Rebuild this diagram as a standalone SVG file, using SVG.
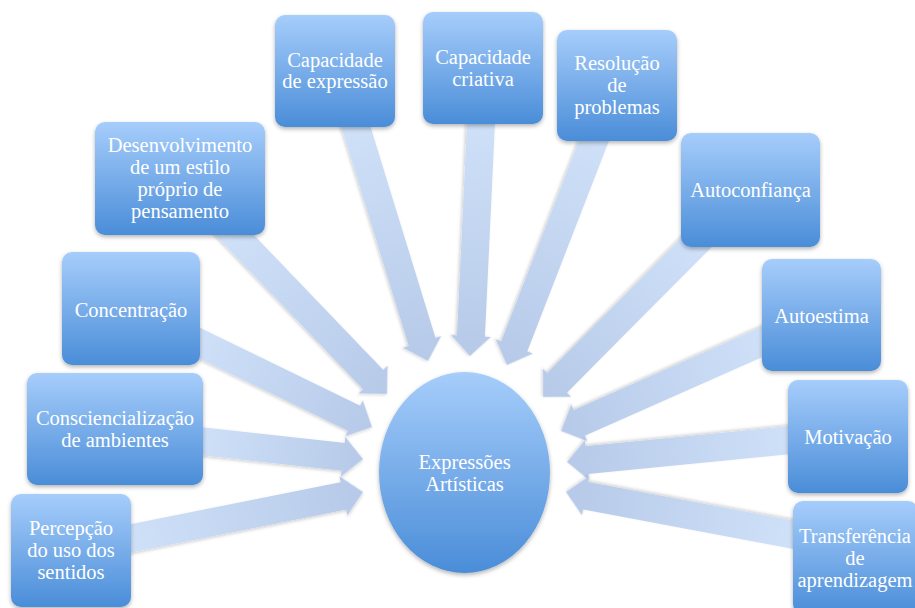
<svg xmlns="http://www.w3.org/2000/svg" width="915" height="608" viewBox="0 0 915 608">
<defs>
<linearGradient id="boxg" x1="0" y1="0" x2="0" y2="1">
<stop offset="0" stop-color="#a6cdfb"/>
<stop offset="1" stop-color="#4a8dd8"/>
</linearGradient>
<linearGradient id="arrg" x1="0" y1="0" x2="1" y2="0">
<stop offset="0" stop-color="#d0e2f9"/>
<stop offset="1" stop-color="#b6c9e8"/>
</linearGradient>
<filter id="sh" x="-20%" y="-20%" width="140%" height="140%">
<feDropShadow dx="0" dy="2" stdDeviation="2" flood-color="#000" flood-opacity="0.3"/>
</filter>
<filter id="ash" x="-20%" y="-20%" width="140%" height="140%">
<feDropShadow dx="0" dy="1.5" stdDeviation="1.5" flood-color="#000" flood-opacity="0.18"/>
</filter>
</defs>
<style>
.box{fill:url(#boxg);filter:url(#sh)}
.arr{fill:url(#arrg);filter:url(#ash)}
.t{font-family:"Liberation Serif","Times New Roman",serif;font-size:20.5px;fill:#ffffff;text-anchor:middle}
</style>
<rect width="915" height="608" fill="#ffffff"/>
<g id="connectors">
<path class="arr" transform="translate(428,361) rotate(72.9)" d="M0,0 L-20,-20 L-20,-14 L-260,-14 L-260,14 L-20,14 L-20,20 Z"/>
<path class="arr" transform="translate(470,356) rotate(92.7)" d="M0,0 L-20,-20 L-20,-14 L-246,-14 L-246,14 L-20,14 L-20,20 Z"/>
<path class="arr" transform="translate(507,365) rotate(111.2)" d="M0,0 L-20,-20 L-20,-14 L-257,-14 L-257,14 L-20,14 L-20,20 Z"/>
<path class="arr" transform="translate(543,397) rotate(134.8)" d="M0,0 L-20,-20 L-20,-14 L-230,-14 L-230,14 L-20,14 L-20,20 Z"/>
<path class="arr" transform="translate(561,431) rotate(156.1)" d="M0,0 L-20,-20 L-20,-14 L-234,-14 L-234,14 L-20,14 L-20,20 Z"/>
<path class="arr" transform="translate(567,462) rotate(174.4)" d="M0,0 L-20,-20 L-20,-14 L-234,-14 L-234,14 L-20,14 L-20,20 Z"/>
<path class="arr" transform="translate(566,492) rotate(-169.35)" d="M0,0 L-20,-20 L-20,-14 L-238,-14 L-238,14 L-20,14 L-20,20 Z"/>
<path class="arr" transform="translate(363,492) rotate(-11.3)" d="M0,0 L-20,-20 L-20,-14 L-250,-14 L-250,14 L-20,14 L-20,20 Z"/>
<path class="arr" transform="translate(363,459) rotate(6.27)" d="M0,0 L-20,-20 L-20,-14 L-174,-14 L-174,14 L-20,14 L-20,20 Z"/>
<path class="arr" transform="translate(372,427) rotate(25.95)" d="M0,0 L-20,-20 L-20,-14 L-208,-14 L-208,14 L-20,14 L-20,20 Z"/>
<path class="arr" transform="translate(387,394) rotate(46.2)" d="M0,0 L-20,-20 L-20,-14 L-238,-14 L-238,14 L-20,14 L-20,20 Z"/>
</g>
<g id="center">
<ellipse class="box" cx="464.5" cy="472.5" rx="85.5" ry="100.5"/>
<text class="t" x="464.5" y="469">Expressões</text>
<text class="t" x="464.5" y="491">Artísticas</text>
</g>
<g id="expressao">
<rect class="box" x="275" y="15" width="120" height="112" rx="10"/>
<text class="t" x="335" y="67">Capacidade</text>
<text class="t" x="335" y="88">de expressão</text>
</g>
<g id="criativa">
<rect class="box" x="423" y="12" width="120" height="112" rx="10"/>
<text class="t" x="483" y="64">Capacidade</text>
<text class="t" x="483" y="86">criativa</text>
</g>
<g id="resolucao">
<rect class="box" x="557" y="30" width="120" height="111" rx="10"/>
<text class="t" x="617" y="70">Resolução</text>
<text class="t" x="617" y="92">de</text>
<text class="t" x="617" y="114">problemas</text>
</g>
<g id="desenvolvimento">
<rect class="box" x="95" y="122" width="170" height="113" rx="10"/>
<text class="t" x="180" y="152">Desenvolvimento</text>
<text class="t" x="180" y="174">de um estilo</text>
<text class="t" x="180" y="196">próprio de</text>
<text class="t" x="180" y="218">pensamento</text>
</g>
<g id="concentracao">
<rect class="box" x="62" y="252" width="138" height="113" rx="10"/>
<text class="t" x="131" y="317">Concentração</text>
</g>
<g id="consciencializacao">
<rect class="box" x="27" y="373" width="176" height="112" rx="10"/>
<text class="t" x="115" y="425">Consciencialização</text>
<text class="t" x="115" y="447">de ambientes</text>
</g>
<g id="percepcao">
<rect class="box" x="11" y="494" width="120" height="113" rx="10"/>
<text class="t" x="71" y="535">Percepção</text>
<text class="t" x="71" y="557">do uso dos</text>
<text class="t" x="71" y="579">sentidos</text>
</g>
<g id="autoconfianca">
<rect class="box" x="681" y="133" width="139" height="114" rx="10"/>
<text class="t" x="750.5" y="197">Autoconfiança</text>
</g>
<g id="autoestima">
<rect class="box" x="762" y="259" width="119" height="112" rx="10"/>
<text class="t" x="821.5" y="323">Autoestima</text>
</g>
<g id="motivacao">
<rect class="box" x="788" y="380" width="120" height="113" rx="10"/>
<text class="t" x="848" y="444">Motivação</text>
</g>
<g id="transferencia">
<rect class="box" x="793" y="501" width="125" height="113" rx="10"/>
<text class="t" x="855" y="543">Transferência</text>
<text class="t" x="855" y="565">de</text>
<text class="t" x="855" y="587">aprendizagem</text>
</g>
</svg>
